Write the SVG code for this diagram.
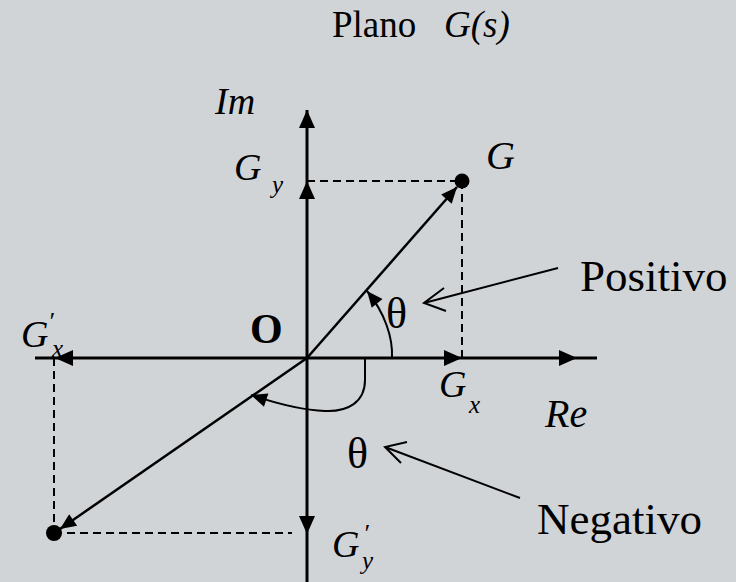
<svg xmlns="http://www.w3.org/2000/svg" width="736" height="582" viewBox="0 0 736 582">
<defs>
<style>
.t{font-family:"Liberation Serif","Times New Roman",serif;fill:#000}
.i{font-style:italic}
.ax{stroke:#000;stroke-width:3;fill:none}
.v{stroke:#000;stroke-width:2.5;fill:none}
.d{stroke:#000;stroke-width:2;stroke-dasharray:8,5;fill:none}
.p{stroke:#000;stroke-width:2;fill:none}
</style>
<marker id="tri" markerUnits="userSpaceOnUse" markerWidth="20" markerHeight="16" viewBox="0 0 18 16" refX="18" refY="8" orient="auto">
<path d="M0,0 L18,8 L0,16 Z" fill="#000"/>
</marker>
<marker id="tris" markerUnits="userSpaceOnUse" markerWidth="18" markerHeight="14" viewBox="0 0 16 14" refX="16" refY="7" orient="auto">
<path d="M0,0 L16,7 L0,14 Z" fill="#000"/>
</marker>
</defs>
<rect width="736" height="582" fill="#d1d4d7"/>
<g id="title">
<text class="t" x="332" y="37" font-size="37">Plano</text>
<text class="t i" x="444" y="37" font-size="37">G(s)</text>
</g>
<g id="connectors">
<line class="ax" x1="307" y1="358" x2="307" y2="181" marker-end="url(#tri)"/>
<line class="ax" x1="307" y1="181" x2="307" y2="110" marker-end="url(#tri)"/>
<line class="ax" x1="307" y1="358" x2="307" y2="534" marker-end="url(#tri)"/>
<line class="ax" x1="307" y1="534" x2="307" y2="582"/>
<line class="ax" x1="307" y1="358" x2="462" y2="358" marker-end="url(#tri)"/>
<line class="ax" x1="462" y1="358" x2="577" y2="358" marker-end="url(#tri)"/>
<line class="ax" x1="577" y1="358" x2="597" y2="358"/>
<line class="ax" x1="307" y1="358" x2="55" y2="358" marker-end="url(#tri)"/>
<line class="ax" x1="55" y1="358" x2="35" y2="358"/>
<line class="d" x1="307" y1="181" x2="462" y2="181"/>
<line class="d" x1="462" y1="181" x2="462" y2="358"/>
<line class="d" x1="54" y1="358" x2="54" y2="533"/>
<line class="d" x1="54" y1="533" x2="292" y2="533"/>
<line class="v" x1="307" y1="358" x2="457" y2="187" marker-end="url(#tris)"/>
<line class="v" x1="307" y1="358" x2="60" y2="529" marker-end="url(#tris)"/>
<path class="p" d="M392,358 C393,338 385,313 367,291" marker-end="url(#tris)"/>
<path class="p" d="M365,358 L365,380 C365,402 348,412 325,411 C300,410 275,403 251,395" marker-end="url(#tris)"/>
<path class="p" d="M558,268 L424,303 M444,288 L424,303 L446,311"/>
<path class="p" d="M520,498 L385,447 M407,442 L385,447 L401,463"/>
</g>
<g id="G">
<circle cx="462" cy="181" r="7.5" fill="#000"/>
<text class="t i" x="486" y="169" font-size="40">G</text>
</g>
<g id="Gneg">
<circle cx="54" cy="533" r="8" fill="#000"/>
</g>
<g id="labels">
<text class="t i" x="215" y="114" font-size="38">Im</text>
<text class="t i" x="234" y="180" font-size="38">G</text>
<text class="t i" x="272" y="193" font-size="25">y</text>
<text class="t" x="250" y="343" font-size="42" font-weight="bold">O</text>
<text class="t i" x="21" y="347" font-size="38">G</text>
<text class="t i" x="48" y="330" font-size="26">′</text>
<text class="t i" x="52" y="357" font-size="25">x</text>
<text class="t i" x="439" y="397" font-size="38">G</text>
<text class="t i" x="469" y="413" font-size="25">x</text>
<text class="t i" x="545" y="427" font-size="40">Re</text>
<text class="t" x="386" y="328" font-size="44">θ</text>
<text class="t" x="347" y="468" font-size="44">θ</text>
<text class="t" x="580" y="291" font-size="45">Positivo</text>
<text class="t" x="537" y="534" font-size="45">Negativo</text>
<text class="t i" x="332" y="557" font-size="38">G</text>
<text class="t i" x="363" y="542" font-size="26">′</text>
<text class="t i" x="362" y="569" font-size="25">y</text>
</g>
</svg>
